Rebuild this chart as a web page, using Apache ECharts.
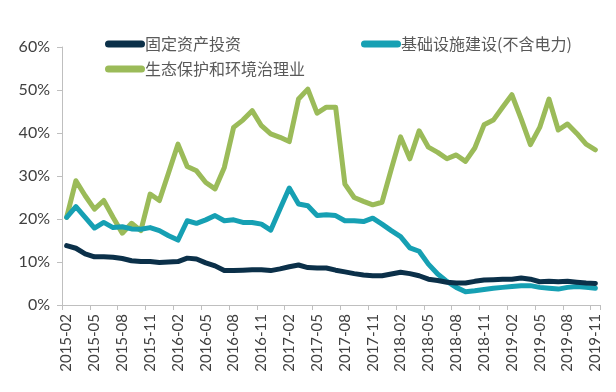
<!DOCTYPE html>
<html><head><meta charset="utf-8">
<script src="https://cdn.jsdelivr.net/npm/echarts@6/dist/echarts.min.js"></script>
<style>html,body{margin:0;padding:0;background:#fff}#c{width:616px;height:392px}</style>
</head><body><div id="c"></div>
<script>
var categories = ['2015-02','2015-03','2015-04','2015-05','2015-06','2015-07','2015-08','2015-09','2015-10','2015-11','2015-12',
'2016-01','2016-02','2016-03','2016-04','2016-05','2016-06','2016-07','2016-08','2016-09','2016-10','2016-11','2016-12',
'2017-01','2017-02','2017-03','2017-04','2017-05','2017-06','2017-07','2017-08','2017-09','2017-10','2017-11','2017-12',
'2018-01','2018-02','2018-03','2018-04','2018-05','2018-06','2018-07','2018-08','2018-09','2018-10','2018-11','2018-12',
'2019-01','2019-02','2019-03','2019-04','2019-05','2019-06','2019-07','2019-08','2019-09','2019-10','2019-11'];
var fixedAsset = [13.8,13.2,11.9,11.2,11.2,11.1,10.8,10.3,10.1,10.1,9.9,10.0,10.1,10.9,10.7,9.8,9.1,8.0,8.0,8.1,8.2,8.2,8.0,8.4,8.9,9.3,8.7,8.6,8.6,8.1,7.7,7.3,7.0,6.8,6.8,7.2,7.6,7.3,6.8,6.0,5.7,5.3,5.1,5.1,5.5,5.8,5.9,6.0,6.0,6.3,6.0,5.4,5.5,5.4,5.5,5.3,5.1,5.0];
var infra = [20.4,22.9,20.4,17.9,19.2,18.0,18.2,17.7,17.6,18.0,17.3,16.1,15.1,19.6,19.0,19.8,20.8,19.6,19.8,19.2,19.2,18.8,17.4,22.3,27.2,23.5,23.1,20.8,21.0,20.8,19.6,19.6,19.4,20.2,18.8,17.3,15.9,13.3,12.5,9.5,7.2,5.5,4.1,3.1,3.3,3.6,3.9,4.1,4.3,4.5,4.5,4.1,3.9,3.7,4.1,4.3,4.1,3.9];
var eco = [20.4,28.9,25.4,22.3,24.3,20.4,16.7,19.0,17.3,25.8,24.3,30.8,37.4,32.2,31.2,28.5,27.0,32.0,41.3,43.0,45.2,41.7,39.8,39.0,38.0,47.9,50.2,44.6,46.0,46.0,28.1,25.0,24.1,23.3,23.9,31.6,39.1,34.0,40.5,36.7,35.5,34.0,34.9,33.4,36.5,41.9,43.0,46.0,48.9,43.3,37.3,41.3,47.9,40.7,42.1,39.9,37.4,36.1];
var seriesNames = ['固定资产投资','基础设施建设(不含电力)','生态保护和环境治理业'];
var seriesColors = ['#0b3049','#16a0b3','#9bbb59'];
var yTicks = [0,10,20,30,40,50,60];

var chart = echarts.init(document.getElementById('c'), null, {renderer:'canvas'});
var capsule = 'path://M3.5,0 H36.5 A3.5,3.5 0 0 1 36.5,7 H3.5 A3.5,3.5 0 0 1 3.5,0 Z';
var cjk = '"Noto Sans CJK SC", sans-serif';
function mkLegend(name, left, top){
  return {data:[name], left:left, top:top, itemWidth:40, itemHeight:7, icon:capsule, itemGap:0,
    textStyle:{color:'#595959', fontSize:16, fontFamily:cjk, padding:[0,0,0,-5]}};
}
var datas = [fixedAsset, infra, eco];
chart.setOption({
  animation:false,
  backgroundColor:'#fff',
  legend:[mkLegend(seriesNames[0],100,31), mkLegend(seriesNames[1],356,31), mkLegend(seriesNames[2],100,56)],
  grid:{left:62, right:16, top:47, bottom:87, containLabel:false},
  xAxis:{type:'category', data:categories, boundaryGap:true,
    axisLine:{lineStyle:{color:'#bfbfbf', width:1}},
    axisTick:{show:true, interval:2, length:5, lineStyle:{color:'#bfbfbf'}},
    axisLabel:{interval:2, rotate:90, color:'#404040', fontSize:15, fontFamily:'Lato, "Noto Sans", sans-serif', margin:9}},
  yAxis:{type:'value', min:yTicks[0], max:yTicks[yTicks.length-1], interval:10,
    axisLine:{show:true, lineStyle:{color:'#bfbfbf', width:1}},
    axisTick:{show:true, length:5, lineStyle:{color:'#bfbfbf'}},
    splitLine:{show:false},
    axisLabel:{formatter:'{value}%', color:'#404040', fontSize:16, fontFamily:'Lato, "Noto Sans", sans-serif', margin:12}},
  series: seriesNames.map(function(n,i){
    return {name:n, type:'line', data:datas[i], showSymbol:false, symbol:'none', smooth:false,
      color:seriesColors[i], lineStyle:{width:5, color:seriesColors[i], cap:'round', join:'round'}, z:3-i};
  })
});
</script></body></html>
